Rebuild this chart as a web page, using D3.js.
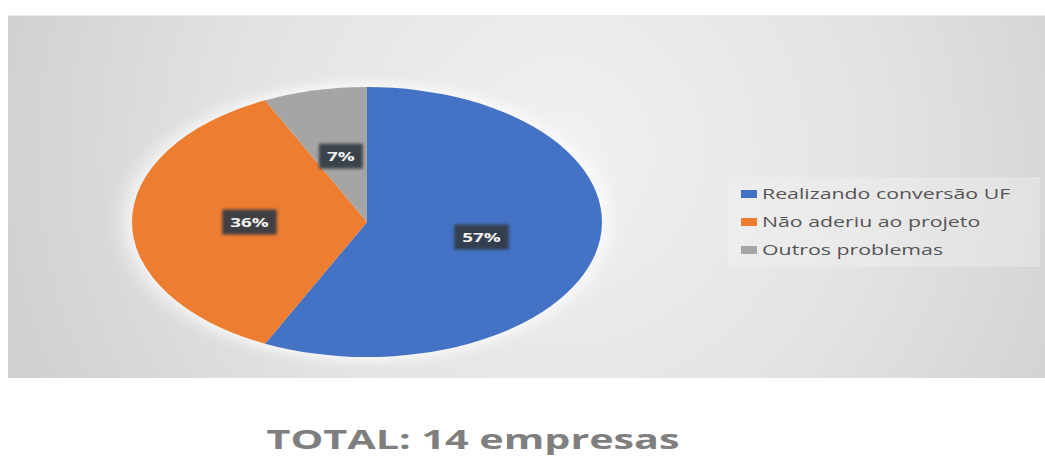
<!DOCTYPE html>
<meta charset="utf-8">
<head>
<style type="text/css">
  body { margin: 0; background: #fff; }
  svg { display: block; }
  text { font-family: "Open Sans", "DejaVu Sans", sans-serif; }
</style>
<script src="https://d3js.org/d3.v7.min.js"></script>
</head>
<body>
<div id="vis"></div>
<script>
// data
var categories = ["Realizando conversão UF", "Não aderiu ao projeto", "Outros problemas"];
var counts = [8, 5, 1];
var pctLabels = ["57%", "36%", "7%"];
var sliceColors = ["#4472c4", "#ed7d31", "#a5a5a5"];
var totalLabel = "TOTAL: 14 empresas";

var width = 1045,
    height = 457;

var svg = d3.select("#vis").append("svg")
    .attr("width", width)
    .attr("height", height);

var defs = svg.append("defs");

var bg = defs.append("radialGradient")
    .attr("id", "bgGrad")
    .attr("gradientUnits", "userSpaceOnUse")
    .attr("cx", 560).attr("cy", 150).attr("r", 580);
bg.append("stop").attr("offset", "0%").attr("stop-color", "#f1f1f1");
bg.append("stop").attr("offset", "55%").attr("stop-color", "#e3e3e3");
bg.append("stop").attr("offset", "100%").attr("stop-color", "#d0d0d0");

var glow = defs.append("filter").attr("id", "glow")
    .attr("x", "-20%").attr("y", "-20%").attr("width", "140%").attr("height", "140%");
glow.append("feGaussianBlur").attr("stdDeviation", 6);

var boxShadow = defs.append("filter").attr("id", "boxShadow")
    .attr("x", "-30%").attr("y", "-40%").attr("width", "160%").attr("height", "180%");
boxShadow.append("feGaussianBlur").attr("stdDeviation", 1.5);

// chart panel
svg.append("rect")
    .attr("x", 8).attr("y", 15)
    .attr("width", width - 8).attr("height", 363)
    .attr("fill", "url(#bgGrad)");
svg.append("line")
    .attr("x1", 8).attr("x2", width).attr("y1", 15.5).attr("y2", 15.5)
    .attr("stroke", "#ececec");

// pie (stretched horizontally like the picture)
var cx = 367, cy = 222, ry = 135, rx = 235;
var sx = rx / ry;

var pie = d3.pie().sort(null).value(function(d) { return d; });
var arcs = pie(counts);
var arc = d3.arc().innerRadius(0).outerRadius(ry);

var pieG = svg.append("g")
    .attr("transform", "translate(" + cx + "," + cy + ") scale(" + sx + ",1)");

pieG.append("circle")
    .attr("r", ry + 4)
    .attr("fill", "#ffffff")
    .attr("opacity", 0.8)
    .attr("filter", "url(#glow)");

pieG.selectAll("path.slice")
    .data(arcs)
    .enter().append("path")
    .attr("class", "slice")
    .attr("d", arc)
    .attr("fill", function(d, i) { return sliceColors[i]; });

// data labels
var stretch = 1.45;
var labelG = svg.append("g");
arcs.forEach(function(d, i) {
  var c = arc.centroid(d);
  var lx = cx + c[0] * sx, ly = cy + c[1];
  var g = labelG.append("g").attr("transform", "translate(" + lx + "," + ly + ")");
  var bgRect = g.append("rect").attr("fill", "#333a44").attr("opacity", 0.92).attr("filter", "url(#boxShadow)");
  var t = g.append("text")
      .attr("text-anchor", "middle")
      .attr("dy", "0.35em")
      .attr("font-size", 13)
      .attr("font-weight", "bold")
      .attr("fill", "#f2f2f2")
      .text(pctLabels[i]);
  var w = t.node().getComputedTextLength() * stretch;
  t.attr("textLength", w).attr("lengthAdjust", "spacingAndGlyphs");
  bgRect.attr("x", -w / 2 - 8).attr("y", -12.5).attr("width", w + 16).attr("height", 25);
});

// legend
var legend = svg.append("g");
legend.append("rect")
    .attr("x", 728).attr("y", 177)
    .attr("width", 312).attr("height", 90)
    .attr("fill", "#f7f7f7").attr("opacity", 0.3);

var rowY = d3.scalePoint().domain(categories).range([194, 250]);
categories.forEach(function(name, i) {
  var y = rowY(name);
  legend.append("rect")
      .attr("x", 741).attr("y", y - 4)
      .attr("width", 16).attr("height", 8)
      .attr("fill", sliceColors[i]);
  var t = legend.append("text")
      .attr("x", 762).attr("y", y)
      .attr("dy", "0.35em")
      .attr("font-size", 15)
      .attr("font-weight", 500)
      .attr("fill", "#555555")
      .text(name);
  var w = t.node().getComputedTextLength() * 1.42;
  t.attr("textLength", w).attr("lengthAdjust", "spacingAndGlyphs");
});

// total caption
var tt = svg.append("text")
    .attr("x", 473).attr("y", 449)
    .attr("text-anchor", "middle")
    .attr("font-size", 26)
    .attr("font-weight", "bold")
    .attr("fill", "#7f7f7f")
    .text(totalLabel);
tt.attr("textLength", 413).attr("lengthAdjust", "spacingAndGlyphs");
</script>
</body>
